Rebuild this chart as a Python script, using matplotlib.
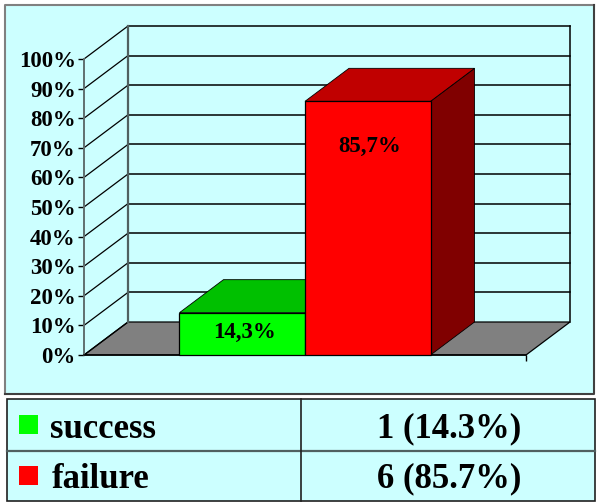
import matplotlib
matplotlib.use('Agg')
import matplotlib.pyplot as plt
from matplotlib.patches import Polygon, Rectangle

plt.rcParams['font.family'] = ['Liberation Serif', 'DejaVu Serif']
plt.rcParams['font.weight'] = 'bold'

categories = ['success', 'failure']
counts = [1, 6]
percent_values = [14.3, 85.7]
bar_labels = ['14,3%', '85,7%']
table_labels = ['1 (14.3%)', '6 (85.7%)']
y_ticks = [0, 10, 20, 30, 40, 50, 60, 70, 80, 90, 100]

W, H = 600, 503
bg = '#CCFFFF'
front_colors = ['#00FF00', '#FF0000']
top_colors = ['#00C000', '#C00000']
side_colors = ['#008000', '#800000']

fig = plt.figure(figsize=(W / 100, H / 100), dpi=100, facecolor='white')

# page furniture (panel and table) in pixel coords
page = fig.add_axes([0, 0, 1, 1])
page.set_xlim(0, W)
page.set_ylim(H, 0)
page.axis('off')
page.add_patch(Rectangle((5, 5), 589, 389, fc=bg, ec='none'))
page.plot([5, 5, 594], [394, 5, 5], color='#808080', lw=1.5)
page.plot([5, 594, 594], [394, 394, 5], color='#404040', lw=1.5)
page.add_patch(Rectangle((7, 399), 588, 102, fc=bg, ec='#202020', lw=1.2))
page.plot([7, 595], [451, 451], color='#506060', lw=1.6)
page.plot([301, 301], [399, 501], color='#202020', lw=1.2)

row_y = [427, 478]
text_y = [429, 479]
label_x = [50, 52]
for i, name in enumerate(categories):
    page.add_patch(Rectangle((19, row_y[i] - 12), 19, 19, fc=front_colors[i], ec='none'))
    page.text(label_x[i], text_y[i], name, fontsize=25, va='center', ha='left', color='black')
    page.text(449, text_y[i], table_labels[i], fontsize=25, va='center', ha='center', color='black')

# chart axes sit exactly on the front plane, depth is a fixed oblique offset
ax = fig.add_axes([84 / W, 1 - 355 / H, 442 / W, 296 / H])
ax.set_xlim(0, 2)
ax.set_ylim(0, 100)
ax.patch.set_alpha(0)
for spine in ax.spines.values():
    spine.set_visible(False)

dx = 44 / 221
dy = 33 / 2.96

# floor
ax.add_patch(Polygon([(0, 0), (dx, dy), (2 + dx, dy), (2, 0)], fc='#808080', ec='black', lw=0.9, clip_on=False, zorder=1))

# walls and grid
for t in y_ticks:
    if t > 0:
        ax.plot([dx, 2 + dx], [t + dy, t + dy], color='black', lw=1.1, clip_on=False, zorder=1)
    ax.plot([0, dx], [t, t + dy], color='black', lw=0.9, clip_on=False, zorder=1)
ax.plot([0, 0], [0, 100], color='#607070', lw=1.4, clip_on=False, zorder=2)
ax.plot([dx, dx], [dy, 100 + dy], color='#506060', lw=1.6, clip_on=False, zorder=1)
ax.plot([2 + dx, 2 + dx], [dy, 100 + dy], color='black', lw=1.1, clip_on=False, zorder=1)
ax.plot([0, 2], [0, 0], color='black', lw=1.1, clip_on=False, zorder=3)

# bars
bar_w = 0.568
centers = [0.716, 1.284]
for i, v in enumerate(percent_values):
    x0 = centers[i] - bar_w / 2
    x1 = x0 + bar_w
    z = 4 + i
    ax.add_patch(Polygon([(x1, 0), (x1 + dx, dy), (x1 + dx, v + dy), (x1, v)],
                         fc=side_colors[i], ec='black', lw=0.6, clip_on=False, zorder=z))
    ax.add_patch(Polygon([(x0, v), (x0 + dx, v + dy), (x1 + dx, v + dy), (x1, v)],
                         fc=top_colors[i], ec='black', lw=0.6, clip_on=False, zorder=z))
    ax.bar(centers[i], v, width=bar_w, color=front_colors[i], edgecolor='black', lw=0.9, clip_on=False, zorder=z)

ax.text(centers[0] + 0.01, percent_values[0] / 2 + 0.3, bar_labels[0], fontsize=16.5, ha='center', va='center', zorder=8)
ax.text(centers[1] + 0.01, percent_values[1] - 15.3, bar_labels[1], fontsize=16.5, ha='center', va='center', zorder=8)

ax.set_yticks(y_ticks)
ax.set_yticklabels([f'{t}%' for t in y_ticks], fontsize=16.5)
ax.tick_params(axis='y', length=4, width=1, color='black', pad=2)
ax.set_xticks([2])
ax.set_xticklabels([''])
ax.tick_params(axis='x', length=4, width=1, color='black')

fig.savefig('out.png', dpi=100)
plt.close(fig)
